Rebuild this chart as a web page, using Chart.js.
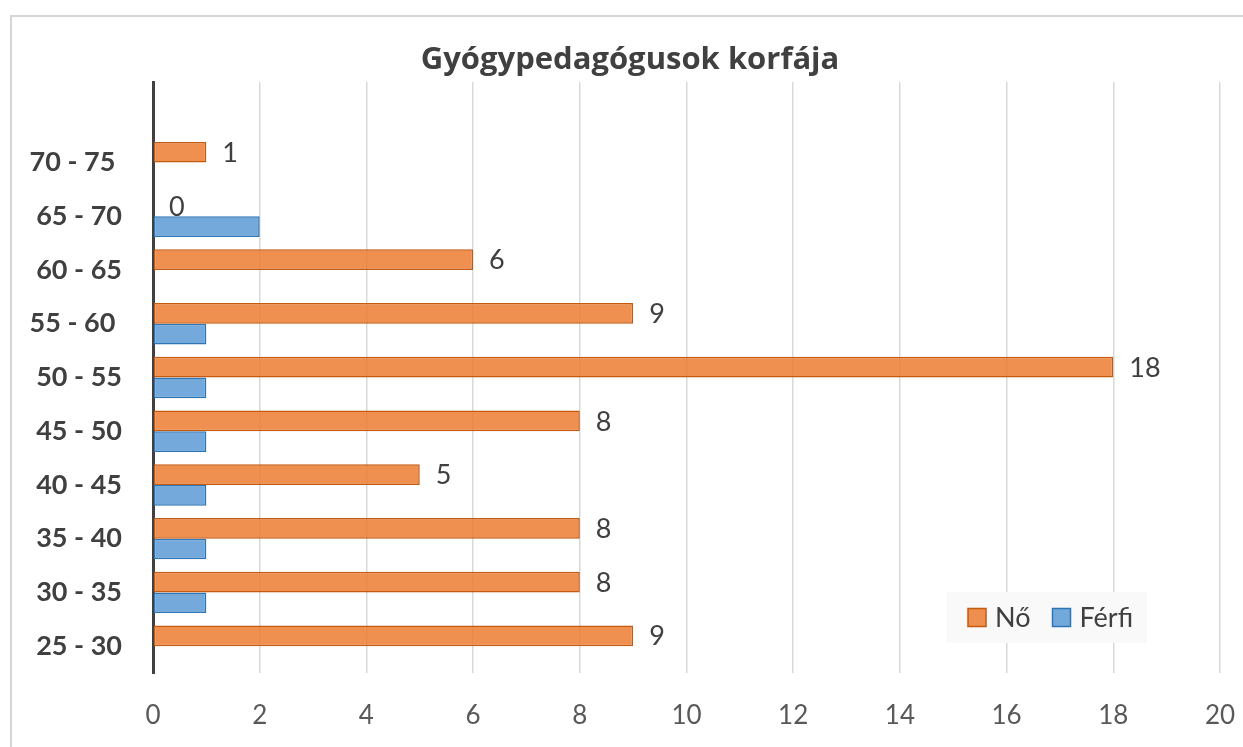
<!DOCTYPE html>
<html lang="hu">
<head>
    <meta charset="UTF-8">
    <title>Gyógypedagógusok korfája</title>
    <script src="https://cdn.jsdelivr.net/npm/chart.js"></script>
    <style>
        html, body {
            margin: 0;
            padding: 0;
            background: #ffffff;
            overflow: hidden;
        }
        .frame {
            position: absolute;
            left: 10px;
            top: 15px;
            width: 1400px;
            height: 900px;
            border-left: 2px solid #d6d6d6;
            border-top: 2px solid #d6d6d6;
        }
        .wrap {
            position: absolute;
            left: 0;
            top: 0;
            width: 1243px;
            height: 747px;
        }
    </style>
</head>
<body>
    <div class="frame"></div>
    <div class="wrap">
        <canvas id="korfa" width="1243" height="747"></canvas>
    </div>

    <script>
        // korcsoportok, felülről lefelé (a legfelső sor üres)
        const korcsoportok = ['', '70 - 75 ', '65 - 70', '60 - 65', '55 - 60 ', '50 - 55', '45 - 50', '40 - 45', '35 - 40', '30 - 35', '25 - 30'];
        const noErtekek = [null, 1, 0, 6, 9, 18, 8, 5, 8, 8, 9];
        const ferfiErtekek = [null, 0, 2, 0, 1, 1, 1, 1, 1, 1, 0];
        const xMin = 0;
        const xMax = 20;
        const xLepes = 2;

        const betu = 'Lato, Calibri, "Noto Sans", sans-serif';

        // értékcímkék a Nő sorozat oszlopai mellett
        const ertekCimkek = {
            id: 'ertekCimkek',
            afterDatasetsDraw(chart) {
                const ctx = chart.ctx;
                const meta = chart.getDatasetMeta(0);
                ctx.save();
                ctx.font = '27px ' + betu;
                ctx.fillStyle = '#404040';
                ctx.textAlign = 'left';
                ctx.textBaseline = 'middle';
                meta.data.forEach((bar, i) => {
                    const v = chart.data.datasets[0].data[i];
                    if (v === null) return;
                    ctx.fillText(String(v), bar.x + 16, bar.y + 1);
                });
                ctx.restore();
            }
        };

        // jelmagyarázat a rajzterület jobb alsó részén
        const jelmagyarazat = {
            id: 'jelmagyarazat',
            afterDraw(chart) {
                const ctx = chart.ctx;
                const bx = 947, by = 592, bw = 200, bh = 51;
                ctx.save();
                ctx.fillStyle = '#f9f9f9';
                ctx.fillRect(bx, by, bw, bh);
                ctx.font = '27px ' + betu;
                ctx.textBaseline = 'middle';
                let x = bx + 21;
                const cy = by + bh / 2;
                chart.data.datasets.forEach(ds => {
                    ctx.fillStyle = ds.backgroundColor;
                    ctx.fillRect(x, cy - 9, 18, 18);
                    ctx.strokeStyle = ds.borderColor;
                    ctx.lineWidth = 1.5;
                    ctx.strokeRect(x, cy - 9, 18, 18);
                    ctx.fillStyle = '#404040';
                    ctx.textAlign = 'left';
                    ctx.fillText(ds.label, x + 27, cy + 1);
                    x += 27 + ctx.measureText(ds.label).width + 22;
                });
                ctx.restore();
            }
        };

        const ctx = document.getElementById('korfa').getContext('2d');
        new Chart(ctx, {
            type: 'bar',
            data: {
                labels: korcsoportok,
                datasets: [
                    {
                        label: 'Nő',
                        data: noErtekek,
                        backgroundColor: 'rgba(237, 125, 49, 0.85)',
                        borderColor: '#c55a11',
                        borderWidth: 1.5,
                        borderSkipped: false
                    },
                    {
                        label: 'Férfi',
                        data: ferfiErtekek,
                        backgroundColor: 'rgba(91, 155, 213, 0.85)',
                        borderColor: '#2e75b6',
                        borderWidth: 1.5,
                        borderSkipped: false
                    }
                ]
            },
            options: {
                indexAxis: 'y',
                responsive: false,
                animation: false,
                categoryPercentage: 0.77,
                barPercentage: 1,
                layout: {
                    padding: { left: 17, right: 0, top: 0, bottom: 0 }
                },
                plugins: {
                    legend: { display: false },
                    tooltip: { enabled: false },
                    title: {
                        display: true,
                        text: 'Gyógypedagógusok korfája',
                        color: '#404040',
                        font: { family: '"Open Sans", ' + betu, size: 31, weight: 'bold', lineHeight: 1.2 },
                        padding: { top: 42, bottom: 2.8 }
                    }
                },
                scales: {
                    x: {
                        min: xMin,
                        max: xMax,
                        ticks: {
                            stepSize: xLepes,
                            color: '#595959',
                            padding: 27,
                            font: { family: betu, size: 26 }
                        },
                        grid: {
                            drawTicks: false,
                            lineWidth: 1.5,
                            color: c => c.tick && c.tick.value === 0 ? 'rgba(0,0,0,0)' : '#d9d9d9'
                        },
                        border: { display: false },
                        afterFit: s => {
                            s.height = 74;
                            s.paddingLeft = 0;
                            s.paddingRight = 23;
                        }
                    },
                    y: {
                        ticks: {
                            color: '#404040',
                            padding: 31,
                            autoSkip: false,
                            font: { family: betu, size: 27, weight: 'bold' }
                        },
                        grid: { display: false, drawTicks: false },
                        border: { display: true, color: '#404040', width: 3 },
                        afterFit: s => { s.width = 136; }
                    }
                }
            },
            plugins: [ertekCimkek, jelmagyarazat]
        });
    </script>
</body>
</html>
